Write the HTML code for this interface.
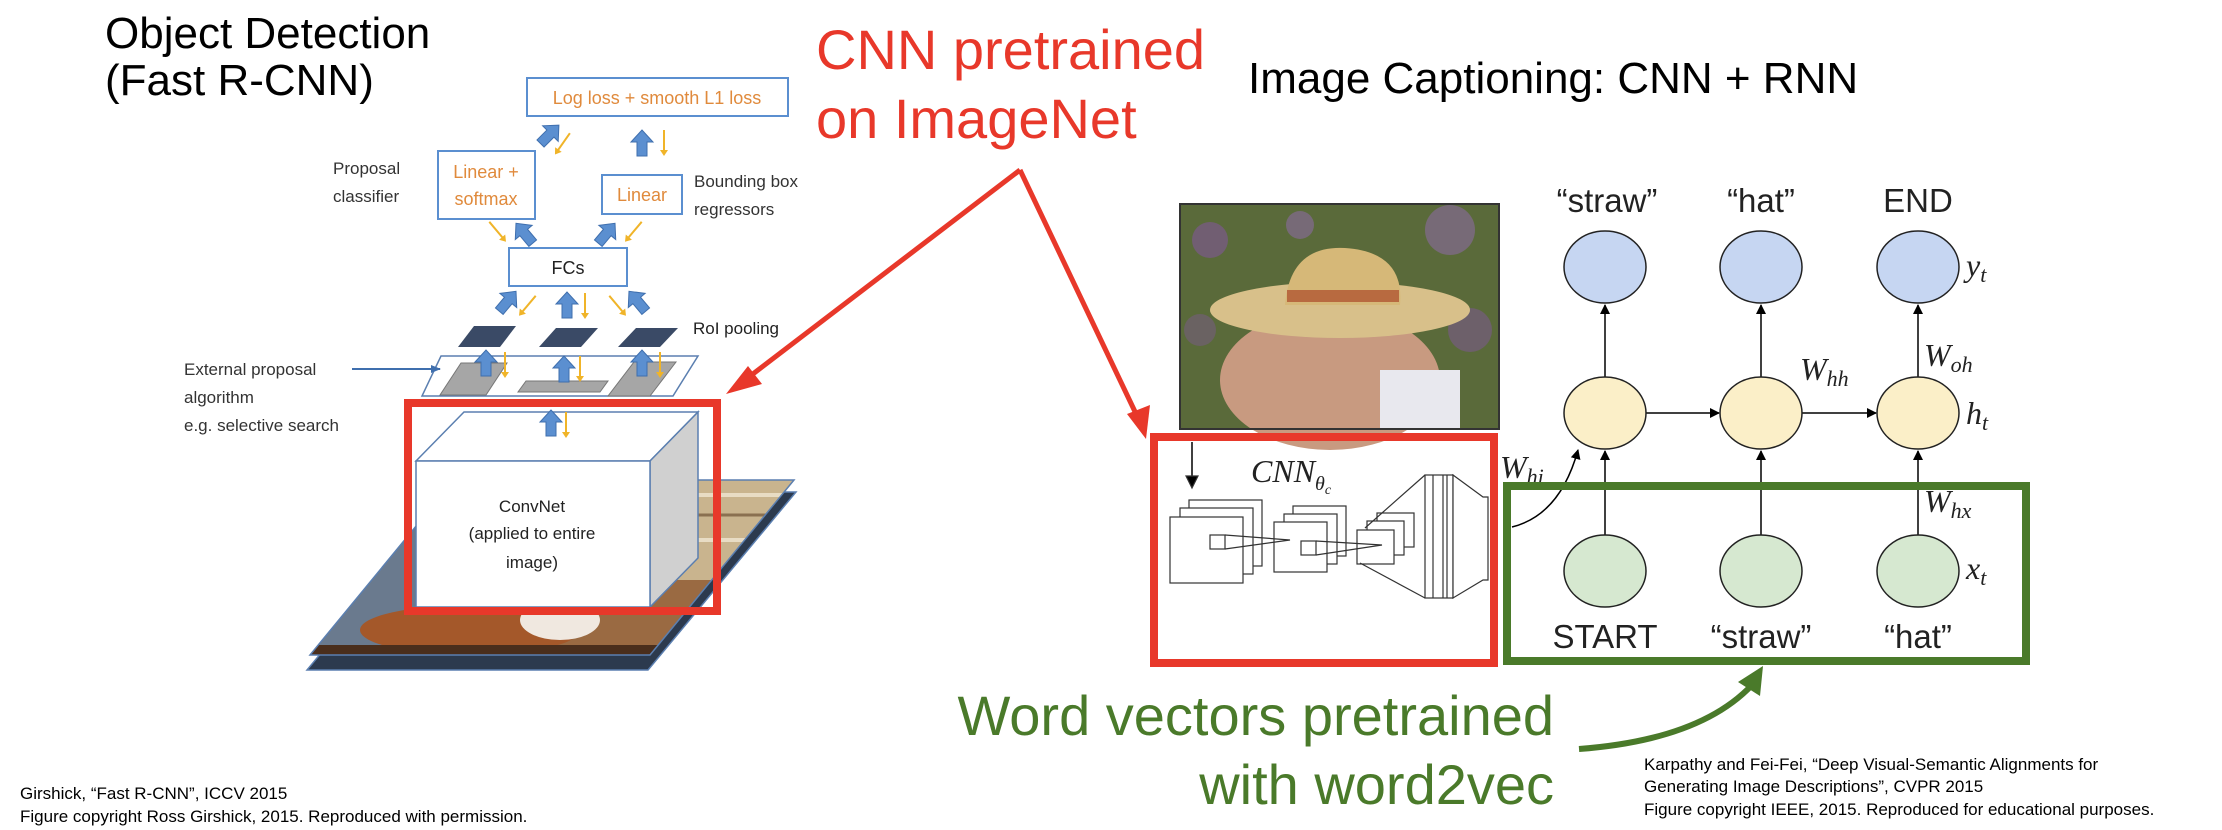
<!DOCTYPE html>
<html><head><meta charset="utf-8">
<style>
html,body{margin:0;padding:0;background:#fff;}
svg{display:block;}
text{font-family:"Liberation Sans",Arial,sans-serif;}
.serif{font-family:"Liberation Serif","DejaVu Serif",serif;font-style:italic;}
</style></head>
<body>
<svg width="2222" height="830" viewBox="0 0 2222 830" xmlns="http://www.w3.org/2000/svg">
<defs>
  <polygon id="ba" points="-5,12 -5,-2 -11,-2 0,-14 11,-2 5,-2 5,12" fill="#5b8fd0" stroke="#3f6fae" stroke-width="1"/>
  <g id="ya"><line x1="0" y1="-12" x2="0" y2="10" stroke="#f0b429" stroke-width="2"/><polygon points="-4,8 4,8 0,14" fill="#f0b429"/></g>
  <marker id="ah" markerWidth="10" markerHeight="10" refX="9" refY="5" orient="auto" markerUnits="userSpaceOnUse"><polygon points="0,0 10,5 0,10" fill="#000"/></marker>
  <marker id="ahb" markerWidth="10" markerHeight="10" refX="9" refY="5" orient="auto" markerUnits="userSpaceOnUse"><polygon points="0,1 10,5 0,9" fill="#3f6fae"/></marker>
  <clipPath id="stk"><polygon points="310,655 650,655 794,480 454,480"/></clipPath>
</defs>

<!-- Titles -->
<text x="105" y="48" font-size="44">Object Detection</text>
<text x="105" y="95" font-size="44">(Fast R-CNN)</text>
<text x="1248" y="93" font-size="44">Image Captioning: CNN + RNN</text>
<text x="816" y="69" font-size="56" fill="#e8382a">CNN pretrained</text>
<text x="816" y="138" font-size="56" fill="#e8382a">on ImageNet</text>
<text x="1554" y="735" font-size="56" fill="#4a7a2a" text-anchor="end">Word vectors pretrained</text>
<text x="1554" y="804" font-size="56" fill="#4a7a2a" text-anchor="end">with word2vec</text>

<!-- footers -->
<text x="20" y="799" font-size="17">Girshick, “Fast R-CNN”, ICCV 2015</text>
<text x="20" y="822" font-size="17">Figure copyright Ross Girshick, 2015. Reproduced with permission.</text>
<text x="1644" y="770" font-size="17">Karpathy and Fei-Fei, “Deep Visual-Semantic Alignments for</text>
<text x="1644" y="792" font-size="17">Generating Image Descriptions”, CVPR 2015</text>
<text x="1644" y="815" font-size="17">Figure copyright IEEE, 2015. Reproduced for educational purposes.</text>

<!-- ===== Fast R-CNN diagram ===== -->
<!-- image stack -->
<polygon points="307,670 648,670 796,492 455,492" fill="#2c3a4e" stroke="#5b7fb0" stroke-width="1.5"/>
<g clip-path="url(#stk)">
<rect x="300" y="470" width="500" height="200" fill="#9a6a42"/>
<polygon points="300,670 440,670 520,480 380,480" fill="#6a7a8e"/>
<rect x="600" y="470" width="200" height="110" fill="#c9b48e"/>
<line x1="600" y1="495" x2="800" y2="495" stroke="#e8dcc4" stroke-width="4"/>
<line x1="600" y1="515" x2="800" y2="515" stroke="#8a7050" stroke-width="3"/>
<line x1="600" y1="540" x2="800" y2="540" stroke="#e8dcc4" stroke-width="4"/>
<ellipse cx="470" cy="630" rx="110" ry="25" fill="#a4582a"/>
<ellipse cx="560" cy="620" rx="40" ry="20" fill="#f0e8e0"/>
<rect x="300" y="645" width="500" height="20" fill="#4a2e1c"/>
</g>
<polygon points="310,655 650,655 794,480 454,480" fill="none" stroke="#5b7fb0" stroke-width="1.5"/>
<!-- cube -->
<polygon points="416,461 464,412 698,412 650,461" fill="#fff" stroke="#5b7fb0" stroke-width="1.5"/>
<polygon points="650,461 698,412 698,558 650,607" fill="#d0d0d0" stroke="#5b7fb0" stroke-width="1.5"/>
<rect x="416" y="461" width="234" height="146" fill="#fff" stroke="#5b7fb0" stroke-width="1.5"/>
<text x="532" y="512" font-size="17" text-anchor="middle" fill="#222">ConvNet</text>
<text x="532" y="539" font-size="17" text-anchor="middle" fill="#222">(applied to entire</text>
<text x="532" y="568" font-size="17" text-anchor="middle" fill="#222">image)</text>
<!-- proposal plane -->
<polygon points="422,396 673,396 698,356 441,356" fill="#fff" stroke="#5b7fb0" stroke-width="1.5"/>
<polygon points="440,395 486,395 507,363 461,363" fill="#a6a6a6" stroke="#777"/>
<polygon points="518,392 600,392 608,381 526,381" fill="#a6a6a6" stroke="#777"/>
<polygon points="608,396 650,396 676,362 634,362" fill="#a6a6a6" stroke="#777"/>
<!-- RoI pooled -->
<polygon points="458,347 500,347 516,326 474,326" fill="#3a4a66"/>
<polygon points="539,347 581,347 598,328 556,328" fill="#3a4a66"/>
<polygon points="618,347 660,347 678,328 636,328" fill="#3a4a66"/>
<text x="693" y="334" font-size="17" fill="#222">RoI pooling</text>
<!-- External proposal -->
<text x="184" y="375" font-size="17" fill="#333">External proposal</text>
<text x="184" y="403" font-size="17" fill="#333">algorithm</text>
<text x="184" y="431" font-size="17" fill="#333">e.g. selective search</text>
<line x1="352" y1="369" x2="440" y2="369" stroke="#3f6fae" stroke-width="2" marker-end="url(#ahb)"/>
<!-- boxes -->
<rect x="509" y="248" width="118" height="38" fill="#fff" stroke="#5b8fd0" stroke-width="2"/>
<text x="568" y="274" font-size="18" text-anchor="middle" fill="#222">FCs</text>
<rect x="438" y="151" width="97" height="68" fill="#fff" stroke="#5b8fd0" stroke-width="2"/>
<text x="486" y="178" font-size="18" text-anchor="middle" fill="#e08a3c">Linear +</text>
<text x="486" y="205" font-size="18" text-anchor="middle" fill="#e08a3c">softmax</text>
<rect x="602" y="175" width="80" height="39" fill="#fff" stroke="#5b8fd0" stroke-width="2"/>
<text x="642" y="201" font-size="18" text-anchor="middle" fill="#e08a3c">Linear</text>
<rect x="527" y="78" width="261" height="38" fill="#fff" stroke="#5b8fd0" stroke-width="2"/>
<text x="657" y="104" font-size="18" text-anchor="middle" fill="#e08a3c">Log loss + smooth L1 loss</text>
<text x="333" y="174" font-size="17" fill="#333">Proposal</text>
<text x="333" y="202" font-size="17" fill="#333">classifier</text>
<text x="694" y="187" font-size="17" fill="#333">Bounding box</text>
<text x="694" y="215" font-size="17" fill="#333">regressors</text>
<!-- blue arrows -->
<use href="#ba" transform="translate(549,135) rotate(45)"/>
<use href="#ba" transform="translate(642,144)"/>
<use href="#ba" transform="translate(525,234) rotate(-40)"/>
<use href="#ba" transform="translate(606,234) rotate(40)"/>
<use href="#ba" transform="translate(507,302) rotate(40)"/>
<use href="#ba" transform="translate(567,306)"/>
<use href="#ba" transform="translate(638,302) rotate(-40)"/>
<use href="#ba" transform="translate(486,364)"/>
<use href="#ba" transform="translate(564,370)"/>
<use href="#ba" transform="translate(642,364)"/>
<use href="#ba" transform="translate(551,424)"/>
<!-- yellow arrows -->
<use href="#ya" transform="translate(563,143) rotate(35)"/>
<use href="#ya" transform="translate(664,142)"/>
<use href="#ya" transform="translate(497,231) rotate(-40)"/>
<use href="#ya" transform="translate(634,231) rotate(40)"/>
<use href="#ya" transform="translate(528,305) rotate(40)"/>
<use href="#ya" transform="translate(585,305)"/>
<use href="#ya" transform="translate(617,305) rotate(-40)"/>
<use href="#ya" transform="translate(505,364)"/>
<use href="#ya" transform="translate(580,368)"/>
<use href="#ya" transform="translate(660,364)"/>
<use href="#ya" transform="translate(566,424)"/>
<!-- red box left -->
<rect x="408" y="403" width="309" height="208" fill="none" stroke="#e8382a" stroke-width="8"/>

<!-- red arrows -->
<line x1="1020" y1="170" x2="745" y2="380" stroke="#e8382a" stroke-width="5"/>
<polygon points="726,394 748,366 762,384" fill="#e8382a"/>
<line x1="1020" y1="170" x2="1138" y2="418" stroke="#e8382a" stroke-width="5"/>
<polygon points="1146,439 1127,414 1150,405" fill="#e8382a"/>

<!-- ===== Image captioning ===== -->
<!-- photo -->
<rect x="1180" y="204" width="319" height="225" fill="#5a6a3a"/>
<circle cx="1210" cy="240" r="18" fill="#7a5a8a" opacity="0.7"/>
<circle cx="1300" cy="225" r="14" fill="#8a6aa0" opacity="0.6"/>
<circle cx="1450" cy="230" r="25" fill="#8a6aa0" opacity="0.6"/>
<circle cx="1470" cy="330" r="22" fill="#7a5a8a" opacity="0.6"/>
<circle cx="1200" cy="330" r="16" fill="#7a5a8a" opacity="0.5"/>
<ellipse cx="1330" cy="380" rx="110" ry="70" fill="#c89a80"/>
<rect x="1380" y="370" width="80" height="59" fill="#e8e8ee"/>
<ellipse cx="1340" cy="310" rx="130" ry="28" fill="#d8c08a"/>
<path d="M1285,305 Q1290,245 1345,248 Q1405,252 1400,305 Z" fill="#d6b878"/>
<rect x="1287" y="290" width="112" height="12" fill="#b86a40"/>
<rect x="1180" y="204" width="319" height="225" fill="none" stroke="#333" stroke-width="2"/>

<!-- CNN sketch -->
<g fill="#fff" stroke="#333" stroke-width="1.2">
<line x1="1192" y1="442" x2="1192" y2="478" stroke="#000" stroke-width="1.5"/>
<polygon points="1186,476 1198,476 1192,488" fill="#000"/>
<rect x="1189" y="500" width="73" height="66"/>
<rect x="1180" y="508" width="73" height="66"/>
<rect x="1170" y="517" width="73" height="66"/>
<rect x="1210" y="535" width="15" height="14"/>
<rect x="1293" y="506" width="53" height="50"/>
<rect x="1284" y="514" width="53" height="50"/>
<rect x="1274" y="522" width="53" height="50"/>
<rect x="1301" y="541" width="15" height="14"/>
<rect x="1377" y="513" width="37" height="34"/>
<rect x="1367" y="521" width="37" height="34"/>
<rect x="1357" y="530" width="37" height="34"/>
<polyline points="1225,535 1290,540 1225,549" fill="none"/>
<polyline points="1316,541 1382,545 1316,555" fill="none"/>
<line x1="1365" y1="528" x2="1425" y2="475"/>
<line x1="1360" y1="563" x2="1425" y2="598"/>
<rect x="1425" y="475" width="28" height="123"/>
<line x1="1433" y1="475" x2="1433" y2="598"/>
<line x1="1443" y1="475" x2="1443" y2="598"/>
<line x1="1447" y1="475" x2="1447" y2="598"/>
<polygon points="1453,475 1483,497 1488,497 1488,580 1483,580 1453,598"/>
</g>
<text x="1251" y="482" font-size="32" class="serif" fill="#222">CNN<tspan font-size="20" dy="8">θ<tspan font-size="14" dy="4">c</tspan></tspan></text>

<!-- red box right -->
<rect x="1154" y="437" width="340" height="226" fill="none" stroke="#e8382a" stroke-width="8"/>

<!-- RNN -->
<g stroke="#000" stroke-width="1.5">
<line x1="1605" y1="377" x2="1605" y2="305" marker-end="url(#ah)"/>
<line x1="1761" y1="377" x2="1761" y2="305" marker-end="url(#ah)"/>
<line x1="1918" y1="377" x2="1918" y2="305" marker-end="url(#ah)"/>
<line x1="1605" y1="535" x2="1605" y2="451" marker-end="url(#ah)"/>
<line x1="1761" y1="535" x2="1761" y2="451" marker-end="url(#ah)"/>
<line x1="1918" y1="535" x2="1918" y2="451" marker-end="url(#ah)"/>
<line x1="1646" y1="413" x2="1719" y2="413" marker-end="url(#ah)"/>
<line x1="1802" y1="413" x2="1876" y2="413" marker-end="url(#ah)"/>
<path d="M1512,527 Q1560,515 1578,450" fill="none" marker-end="url(#ah)"/>
</g>
<g stroke="#222" stroke-width="1.5">
<ellipse cx="1605" cy="267" rx="41" ry="36" fill="#c6d6f2"/>
<ellipse cx="1761" cy="267" rx="41" ry="36" fill="#c6d6f2"/>
<ellipse cx="1918" cy="267" rx="41" ry="36" fill="#c6d6f2"/>
<ellipse cx="1605" cy="413" rx="41" ry="36" fill="#fbefc8"/>
<ellipse cx="1761" cy="413" rx="41" ry="36" fill="#fbefc8"/>
<ellipse cx="1918" cy="413" rx="41" ry="36" fill="#fbefc8"/>
<ellipse cx="1605" cy="571" rx="41" ry="36" fill="#d6e8d0"/>
<ellipse cx="1761" cy="571" rx="41" ry="36" fill="#d6e8d0"/>
<ellipse cx="1918" cy="571" rx="41" ry="36" fill="#d6e8d0"/>
</g>
<text x="1607" y="212" font-size="33" text-anchor="middle" fill="#222">“straw”</text>
<text x="1761" y="212" font-size="33" text-anchor="middle" fill="#222">“hat”</text>
<text x="1918" y="212" font-size="33" text-anchor="middle" fill="#222">END</text>
<text x="1605" y="648" font-size="33" text-anchor="middle" fill="#222">START</text>
<text x="1761" y="648" font-size="33" text-anchor="middle" fill="#222">“straw”</text>
<text x="1918" y="648" font-size="33" text-anchor="middle" fill="#222">“hat”</text>
<text x="1966" y="276" font-size="32" class="serif" fill="#222">y<tspan font-size="22" dy="6">t</tspan></text>
<text x="1966" y="424" font-size="32" class="serif" fill="#222">h<tspan font-size="22" dy="6">t</tspan></text>
<text x="1966" y="579" font-size="32" class="serif" fill="#222">x<tspan font-size="22" dy="6">t</tspan></text>
<text x="1924" y="366" font-size="32" class="serif" fill="#222">W<tspan font-size="22" dy="6">oh</tspan></text>
<text x="1800" y="380" font-size="32" class="serif" fill="#222">W<tspan font-size="22" dy="6">hh</tspan></text>
<text x="1924" y="512" font-size="32" class="serif" fill="#222">W<tspan font-size="22" dy="6">hx</tspan></text>
<text x="1500" y="478" font-size="32" class="serif" fill="#222">W<tspan font-size="22" dy="6">hi</tspan></text>

<!-- green box -->
<rect x="1507" y="486" width="519" height="175" fill="none" stroke="#4a7a2a" stroke-width="8"/>
<!-- green arrow -->
<path d="M1579,749 Q1700,740 1752,685" fill="none" stroke="#4a7a2a" stroke-width="6"/>
<polygon points="1763,666 1738,682 1760,696" fill="#4a7a2a"/>
</svg>
</body></html>
